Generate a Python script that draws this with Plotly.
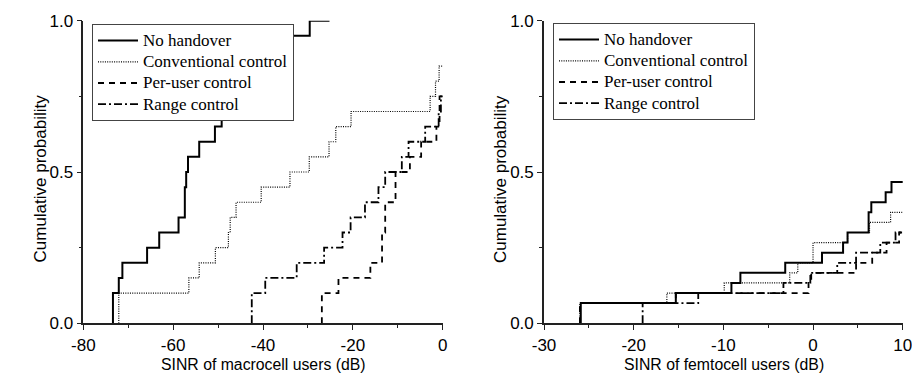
import plotly.graph_objects as go

# ---------------- data: macrocell users (left panel) ----------------
macro_nohandover_x = [-73.4, -72.1, -71.3, -65.8, -63.1, -58.8, -57.4, -57.1, -56.7, -54.2, -50.7,
                      -49.2, -46.5, -43.5, -40.5, -37.5, -35.0, -29.6]
macro_nohandover_y = [0.10, 0.15, 0.20, 0.25, 0.30, 0.35, 0.45, 0.50, 0.55, 0.60, 0.65,
                      0.70, 0.75, 0.80, 0.85, 0.90, 0.95, 1.00]
macro_nohandover_end = -25.2

macro_conv_x = [-72.1, -56.5, -54.2, -50.6, -47.7, -47.3, -46.0, -40.4, -34.0, -29.7, -25.3,
                -23.8, -20.4, -2.8, -1.6, -0.8]
macro_conv_y = [0.10, 0.15, 0.20, 0.25, 0.30, 0.35, 0.40, 0.45, 0.50, 0.55, 0.60,
                0.65, 0.70, 0.75, 0.80, 0.85]

macro_peruser_x = [-26.9, -23.2, -16.1, -13.5, -12.8, -10.5, -7.3, -4.8, -1.4, -0.7]
macro_peruser_y = [0.10, 0.15, 0.20, 0.30, 0.40, 0.50, 0.55, 0.60, 0.65, 0.75]

macro_range_x = [-42.5, -39.5, -32.5, -26.4, -22.3, -20.5, -17.3, -14.3, -12.8, -9.1, -7.6,
                 -3.9, -0.9, -0.4]
macro_range_y = [0.10, 0.15, 0.20, 0.25, 0.30, 0.35, 0.40, 0.45, 0.50, 0.55, 0.60,
                 0.65, 0.70, 0.75]

# ---------------- data: femtocell users (right panel) ----------------
femto_nohandover_x = [-25.9, -15.3, -9.1, -8.1, -3.1, 1.0, 3.35, 3.85, 6.2, 6.5, 8.1, 8.75]
femto_nohandover_y = [0.0667, 0.1, 0.1333, 0.1667, 0.2, 0.2333, 0.2667, 0.3, 0.3667, 0.4,
                      0.4333, 0.4667]

femto_conv_x = [-26.0, -16.3, -9.9, -2.6, -1.7, 0.0, 3.85, 6.3, 8.65]
femto_conv_y = [0.0667, 0.1, 0.1333, 0.1667, 0.2, 0.2667, 0.3, 0.3333, 0.3667]

femto_peruser_x = [-26.0, -15.3, -0.5, -0.2, 4.8, 6.6, 8.2, 9.6]
femto_peruser_y = [0.0667, 0.1, 0.1333, 0.1667, 0.2, 0.2333, 0.2667, 0.3]

femto_range_x = [-19.0, -12.8, -3.3, -0.3, 2.7, 4.8, 7.5, 9.2]
femto_range_y = [0.0667, 0.1, 0.1333, 0.1667, 0.2, 0.2333, 0.2667, 0.3]

series_names = ["No handover", "Conventional control", "Per-user control", "Range control"]
macro_xticks = [-80, -60, -40, -20, 0]
femto_xticks = [-30, -20, -10, 0, 10]
y_ticks = [0.0, 0.5, 1.0]
y_ticklabels = ["0.0", "0.5", "1.0"]

# ---------------- styling ----------------
W, H = 912, 378
AX = "#222222"
SANS = "Liberation Sans, Arial, sans-serif"
SERIF = "Liberation Serif, Times New Roman, serif"
styles = {
    "No handover": dict(color="black", width=2, dash="solid"),
    "Conventional control": dict(color="black", width=1.2, dash="1px,1.3px"),
    "Per-user control": dict(color="black", width=1.8, dash="6px,5px"),
    "Range control": dict(color="black", width=1.8, dash="8px,3px,2px,3px"),
}
rank = {n: i + 1 for i, n in enumerate(series_names)}


def steps(xs, ys, x_end):
    x = [xs[0]] + list(xs) + [x_end]
    y = [0.0] + list(ys) + [ys[-1]]
    return x, y


def legend_label(name):
    return '<span style="font-size:17px">' + name + '</span>'


fig = go.Figure()

left = {
    "No handover": (macro_nohandover_x, macro_nohandover_y, macro_nohandover_end),
    "Conventional control": (macro_conv_x, macro_conv_y, 5),
    "Per-user control": (macro_peruser_x, macro_peruser_y, 5),
    "Range control": (macro_range_x, macro_range_y, 5),
}
right = {
    "No handover": (femto_nohandover_x, femto_nohandover_y, 15),
    "Conventional control": (femto_conv_x, femto_conv_y, 15),
    "Per-user control": (femto_peruser_x, femto_peruser_y, 15),
    "Range control": (femto_range_x, femto_range_y, 15),
}

for name in reversed(series_names):
    xs, ys, xe = left[name]
    sx, sy = steps(xs, ys, xe)
    fig.add_trace(go.Scatter(x=sx, y=sy, mode="lines", line=dict(shape="hv", **styles[name]),
                             name=legend_label(name), xaxis="x", yaxis="y", legend="legend",
                             legendrank=rank[name]))
for name in reversed(series_names):
    xs, ys, xe = right[name]
    sx, sy = steps(xs, ys, xe)
    fig.add_trace(go.Scatter(x=sx, y=sy, mode="lines", line=dict(shape="hv", **styles[name]),
                             name=legend_label(name), xaxis="x2", yaxis="y2", legend="legend2",
                             legendrank=rank[name]))

px_x = lambda p: p / W
px_y = lambda p: 1 - p / H

dom_y = [px_y(323.3), px_y(20.7)]
dom_x1 = [px_x(83.3), px_x(442.7)]
dom_x2 = [px_x(544.0), px_x(902.7)]


def base_x(dom, rng, ticks, minor):
    return dict(domain=dom, range=rng, tickmode="array", tickvals=ticks,
                ticktext=[str(t) for t in ticks], ticks="outside", ticklen=5, tickwidth=1.3,
                tickcolor=AX, showline=True, linecolor=AX, linewidth=1.6, showgrid=False,
                zeroline=False, automargin=False, fixedrange=True, ticklabeloverflow="allow",
                tickfont=dict(family=SANS, size=17, color="black"),
                minor=dict(dtick=minor, tick0=0, ticks="outside", ticklen=3, tickwidth=1.2,
                           tickcolor=AX, showgrid=False))


def base_y(anchor):
    return dict(domain=dom_y, range=[0, 1], tickmode="array", tickvals=y_ticks,
                ticktext=y_ticklabels, ticks="outside", ticklen=5, tickwidth=1.3, tickcolor=AX,
                showline=True, linecolor=AX, linewidth=1.6, showgrid=False, zeroline=False,
                automargin=False, fixedrange=True, anchor=anchor, ticklabeloverflow="allow",
                tickfont=dict(family=SANS, size=17, color="black"),
                minor=dict(dtick=0.25, tick0=0, ticks="outside", ticklen=3, tickwidth=1.2,
                           tickcolor=AX, showgrid=False))


def mirror_x(over, anchor, rng, dt):
    return dict(overlaying=over, side="top", anchor=anchor, range=rng, dtick=dt, tick0=0,
                ticks="inside", ticklen=4, tickwidth=1.2, tickcolor=AX, showticklabels=False,
                showline=True, linecolor=AX, linewidth=1.6, showgrid=False, zeroline=False,
                automargin=False, fixedrange=True)


def mirror_y(over, anchor):
    return dict(overlaying=over, side="right", anchor=anchor, range=[0, 1], dtick=0.25, tick0=0,
                ticks="inside", ticklen=4, tickwidth=1.2, tickcolor=AX, showticklabels=False,
                showline=True, linecolor=AX, linewidth=1.6, showgrid=False, zeroline=False,
                automargin=False, fixedrange=True)


legend_common = dict(bgcolor="white", bordercolor="#444444", borderwidth=1,
                     font=dict(family=SERIF, size=14, color="black"), itemwidth=40,
                     xanchor="left", yanchor="top", tracegroupgap=0, traceorder="normal")

fig.update_layout(
    width=W, height=H, margin=dict(l=0, r=0, t=0, b=0),
    paper_bgcolor="white", plot_bgcolor="white", showlegend=True,
    xaxis=base_x(dom_x1, [-80, 0], macro_xticks, 10) | dict(anchor="y"),
    yaxis=base_y("x"),
    xaxis2=base_x(dom_x2, [-30, 10], femto_xticks, 5) | dict(anchor="y2"),
    yaxis2=base_y("x2"),
    xaxis3=mirror_x("x", "y", [-80, 0], 10),
    yaxis3=mirror_y("y", "x"),
    xaxis4=mirror_x("x2", "y2", [-30, 10], 5),
    yaxis4=mirror_y("y2", "x2"),
    legend=legend_common | dict(x=px_x(92), y=px_y(24)),
    legend2=legend_common | dict(x=px_x(553), y=px_y(23)),
)

ann_font = dict(family=SANS, size=17, color="black")
fig.add_annotation(text="SINR of macrocell users (dB)", x=px_x(263.5), y=px_y(364), xref="paper",
                   yref="paper", showarrow=False, xanchor="center", yanchor="middle",
                   font=dict(family=SANS, size=15.8, color="black"))
fig.add_annotation(text="SINR of femtocell users (dB)", x=px_x(724), y=px_y(364), xref="paper",
                   yref="paper", showarrow=False, xanchor="center", yanchor="middle",
                   font=dict(family=SANS, size=15.8, color="black"))
fig.add_annotation(text="Cumulative probability", x=px_x(40.5), y=px_y(179), xref="paper",
                   yref="paper", showarrow=False, textangle=-90, xanchor="center",
                   yanchor="middle", font=ann_font)
fig.add_annotation(text="Cumulative probability", x=px_x(501), y=px_y(179), xref="paper",
                   yref="paper", showarrow=False, textangle=-90, xanchor="center",
                   yanchor="middle", font=ann_font)

fig.write_html("out.html", config={"displayModeBar": False},
               post_script="document.body.style.margin='0';")
